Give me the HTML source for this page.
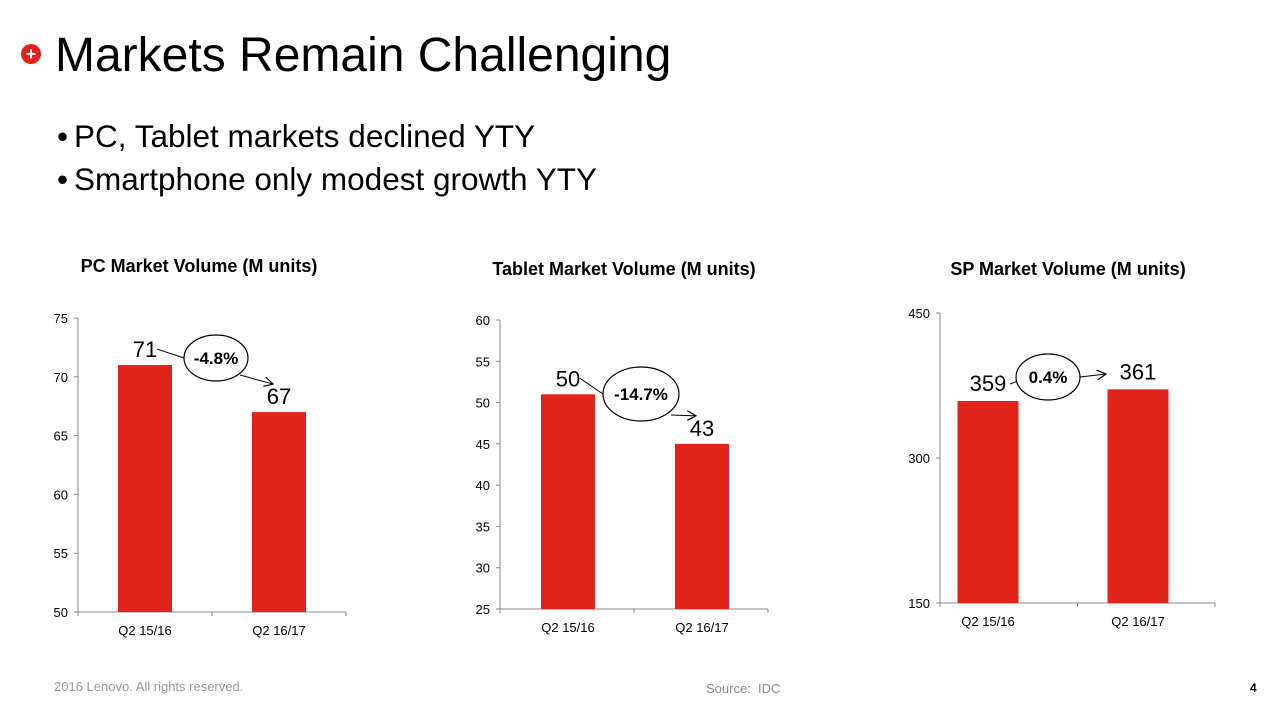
<!DOCTYPE html>
<html><head><meta charset="utf-8">
<style>
body{margin:0;width:1275px;height:718px;background:#fff;font-family:"Liberation Sans",Arial,sans-serif;overflow:hidden;position:relative}
.abs{position:absolute;white-space:nowrap}
</style></head>
<body>
<div class="abs" style="left:21px;top:44px;width:20px;height:20px;border-radius:50%;background:#e2231a;color:#fff;font-weight:bold;font-size:18px;line-height:20px;text-align:center">+</div>
<div class="abs" style="left:55px;top:28px;font-size:48px;color:#000">Markets Remain Challenging</div>
<div class="abs" style="left:57px;top:118px;font-size:31.5px">•<span style="margin-left:6px">PC, Tablet markets declined YTY</span></div>
<div class="abs" style="left:57px;top:161px;font-size:31.5px">•<span style="margin-left:6px">Smartphone only modest growth YTY</span></div>
<div class="abs" style="left:54px;top:679px;font-size:13px;color:#999">2016 Lenovo. All rights reserved.</div>
<div class="abs" style="left:706px;top:681px;font-size:13px;color:#888">Source:&nbsp; IDC</div>
<div class="abs" style="left:1250px;top:681px;font-size:12px;font-weight:bold">4</div>
<svg id="charts" width="1275" height="718" style="position:absolute;left:0;top:0">
<defs><marker id="arr" markerWidth="10" markerHeight="10" refX="9" refY="5" orient="auto" markerUnits="userSpaceOnUse"><path d="M0,0 L9,5 L0,10" fill="none" stroke="#000" stroke-width="1.2"/></marker></defs>
</svg>
<script>
const categories=["Q2 15/16","Q2 16/17"];
const pcValues=[71,67];
const pcLabels=["71","67"];
const pcTicks=[50,55,60,65,70,75];
const tabValues=[51,45];
const tabLabels=["50","43"];
const tabTicks=[25,30,35,40,45,50,55,60];
const spValues=[359,371];
const spLabels=["359","361"];
const spTicks=[150,300,450];
const changes=["-4.8%","-14.7%","0.4%"];
const titles=["PC Market Volume (M units)","Tablet Market Volume (M units)","SP Market Volume (M units)"];

const NS="http://www.w3.org/2000/svg";
const svg=document.getElementById('charts');
function mk(t,a,p){const e=document.createElementNS(NS,t);for(const k in a)e.setAttribute(k,a[k]);(p||svg).appendChild(e);return e;}
const layouts=[
 {x0:78,x1:346,yTop:318,yBot:612,bw:54,cen:[145,279],tx:199,ty:272,ell:[216,358,32,23]},
 {x0:500,x1:768,yTop:320,yBot:609,bw:54,cen:[568,702],tx:624,ty:275,ell:[641,394,38,27]},
 {x0:940,x1:1215,yTop:313,yBot:603,bw:61,cen:[988,1138],tx:1068,ty:275,ell:[1048,377,32,23],sp:true}
];
const data=[[pcValues,pcLabels,pcTicks],[tabValues,tabLabels,tabTicks],[spValues,spLabels,spTicks]];
data.forEach((d,i)=>{
 const L=layouts[i],[vals,labs,ticks]=d;
 const g=mk('g',{});
 
 
 const min=ticks[0],max=ticks[ticks.length-1];
 const y=v=>L.yBot-(v-min)/(max-min)*(L.yBot-L.yTop);
 const slot=(L.x1-L.x0)/categories.length;
 const xc=k=>L.cen[k];
 const t=mk('text',{x:L.tx,y:L.ty,'text-anchor':'middle','font-size':18,'font-weight':'bold'},g);
 t.textContent=titles[i];
 
 
 mk('line',{x1:L.x0,y1:L.yTop,x2:L.x0,y2:L.yBot,stroke:'#888'},g);
 mk('line',{x1:L.x0,y1:L.yBot,x2:L.x1,y2:L.yBot,stroke:'#888'},g);
 ticks.forEach(v=>{
  mk('line',{x1:L.x0-4,y1:y(v),x2:L.x0,y2:y(v),stroke:'#888'},g);
  const tt=mk('text',{x:L.x0-10,y:y(v)+5,'text-anchor':'end','font-size':13},g);
  tt.textContent=v;
  
  
 });
 for(let k=0;k<=categories.length;k++)mk('line',{x1:L.x0+slot*k,y1:L.yBot,x2:L.x0+slot*k,y2:L.yBot+4,stroke:'#888'},g);
 vals.forEach((v,k)=>{
  const r=mk('rect',{x:xc(k)-L.bw/2,y:y(v),width:L.bw,height:L.yBot-y(v),fill:'#e2231a'},g);
  
  
  const lt=mk('text',{x:xc(k),y:y(v)-(L.sp?10:8),'text-anchor':'middle','font-size':22},g);
  lt.textContent=labs[k];
  
  
  const ct=mk('text',{x:xc(k),y:L.yBot+23,'text-anchor':'middle','font-size':13},g);
  ct.textContent=categories[k];
  
  
 });
 const [cx,cy,rx,ry]=L.ell;
 if(L.sp){
  mk('line',{x1:1010,y1:384,x2:cx-rx+2,y2:cy+4,stroke:'#000'},g);
  mk('line',{x1:cx+rx,y1:cy,x2:1106,y2:374,stroke:'#000','marker-end':'url(#arr)'},g);
 }else{
  const y1=y(vals[0])-16,y2=y(vals[1])-26;
  mk('line',{x1:xc(0)+12,y1:y1,x2:cx-rx,y2:cy,stroke:'#000'},g);
  mk('line',{x1:cx+rx-8,y1:cy+ry-6,x2:xc(1)-6,y2:y2-2,stroke:'#000','marker-end':'url(#arr)'},g);
 }
 mk('ellipse',{cx:cx,cy:cy,rx:rx,ry:ry,fill:'#fff',stroke:'#000','stroke-width':1.2},g);
 const pt=mk('text',{x:cx,y:cy+6,'text-anchor':'middle','font-size':17,'font-weight':'bold'},g);
 pt.textContent=changes[i];
 
 
});
</script>
</body></html>
